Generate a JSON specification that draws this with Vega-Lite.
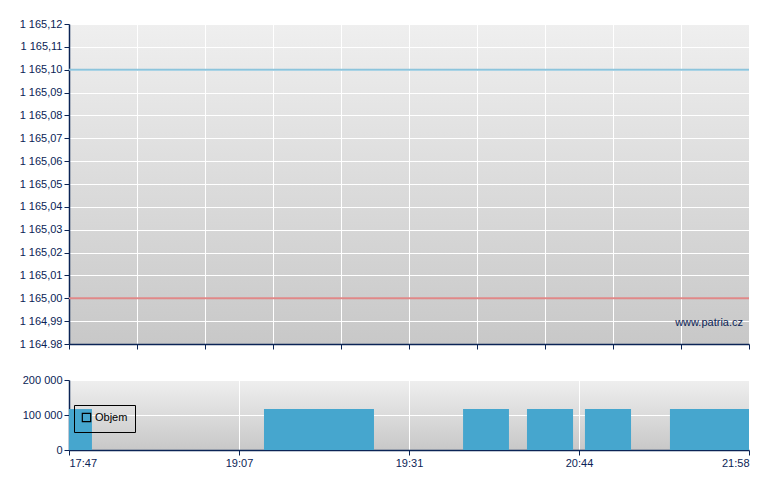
{
  "$schema": "https://vega.github.io/schema/vega-lite/v6.json",
  "background": "white",
  "padding": {"top": 18, "left": 19, "right": 28, "bottom": 20},
  "spacing": 24,
  "datasets": {
    "price": [
      {"t": 0, "v": 1165.10, "s": "Závěr"},
      {"t": 10, "v": 1165.10, "s": "Závěr"},
      {"t": 0, "v": 1165.00, "s": "Předchozí"},
      {"t": 10, "v": 1165.00, "s": "Předchozí"}
    ],
    "mark": [
      {"t": 10, "v": 1164.989, "label": "www.patria.cz"}
    ],
    "volume": [
      {"start": 0.0, "end": 0.135, "objem": 117000},
      {"start": 1.147, "end": 1.794, "objem": 117000},
      {"start": 2.318, "end": 2.588, "objem": 117000},
      {"start": 2.694, "end": 2.965, "objem": 117000},
      {"start": 3.035, "end": 3.306, "objem": 117000},
      {"start": 3.535, "end": 4.0, "objem": 117000}
    ]
  },
  "config": {
    "font": "Liberation Sans",
    "view": {
      "stroke": null,
      "fill": {"gradient": "linear", "x1": 0, "y1": 0, "x2": 0, "y2": 1,
        "stops": [{"offset": 0, "color": "#efefef"}, {"offset": 1, "color": "#c8c8c8"}]}
    },
    "axis": {
      "labelFont": "Liberation Sans",
      "labelFontSize": 11,
      "labelColor": "#0b2456",
      "labelOverlap": false,
      "domainColor": "#0b2456",
      "domainWidth": 1.5,
      "tickColor": "#0b2456",
      "tickSize": 5,
      "labelPadding": 2,
      "gridColor": "white",
      "gridOpacity": 1,
      "gridWidth": 1,
      "title": null
    }
  },
  "resolve": {"scale": {"color": "independent", "stroke": "independent"}, "legend": {"color": "independent", "stroke": "independent"}},
  "vconcat": [
    {
      "width": 680,
      "height": 320,
      "encoding": {
        "x": {"field": "t", "type": "quantitative",
          "scale": {"domain": [0, 10], "nice": false, "zero": false},
          "axis": {"values": [0,1,2,3,4,5,6,7,8,9,10], "labels": false, "grid": true}},
        "y": {"field": "v", "type": "quantitative",
          "scale": {"domain": [1164.98, 1165.12], "nice": false, "zero": false},
          "axis": {"values": [1164.98,1164.99,1165.00,1165.01,1165.02,1165.03,1165.04,1165.05,1165.06,1165.07,1165.08,1165.09,1165.10,1165.11,1165.12],
            "labelExpr": "datum.value < 1164.985 ? '1 164.98' : replace(replace(format(datum.value, ',.2f'), ',', ' '), '.', ',')",
            "grid": true}}
      },
      "layer": [
        {
          "data": {"name": "price"},
          "mark": {"type": "line", "strokeWidth": 2, "clip": true},
          "encoding": {
            "color": {"field": "s", "type": "nominal",
              "scale": {"domain": ["Závěr", "Předchozí"], "range": ["#8cc4dc", "#e08888"]},
              "legend": null}
          }
        },
        {
          "data": {"name": "mark"},
          "mark": {"type": "text", "align": "right", "baseline": "middle", "dx": -6, "fontSize": 11, "color": "#0b2456"},
          "encoding": {
            "text": {"field": "label"}
          }
        }
      ]
    },
    {
      "width": 680,
      "height": 70,
      "data": {"name": "volume"},
      "mark": {"type": "rect", "fill": "#46a6ce", "strokeWidth": 0},
      "encoding": {
        "x": {"field": "start", "type": "quantitative",
          "scale": {"domain": [0, 4], "nice": false, "zero": false},
          "axis": {"values": [0, 1, 2, 3, 4], "grid": true,
            "labelExpr": "['17:47','19:07','19:31','20:44','21:58'][datum.value]"}},
        "x2": {"field": "end"},
        "y": {"field": "objem", "type": "quantitative",
          "scale": {"domain": [0, 200000], "nice": false},
          "axis": {"values": [0, 100000, 200000], "grid": true,
            "labelExpr": "replace(format(datum.value, ','), ',', ' ')"}},
        "y2": {"datum": 0},
        "stroke": {"datum": "Objem", "type": "nominal",
          "scale": {"range": ["black"]},
          "legend": {"orient": "none", "legendX": 5, "legendY": 25, "title": null,
            "strokeColor": "black", "fillColor": null, "padding": 7, "labelOffset": 3,
            "symbolType": "square", "symbolSize": 70, "symbolStrokeWidth": 1.2,
            "symbolFillColor": "transparent", "symbolStrokeColor": "black",
            "labelFontSize": 11, "labelColor": "black", "labelFont": "Liberation Sans"}}
      }
    }
  ]
}
